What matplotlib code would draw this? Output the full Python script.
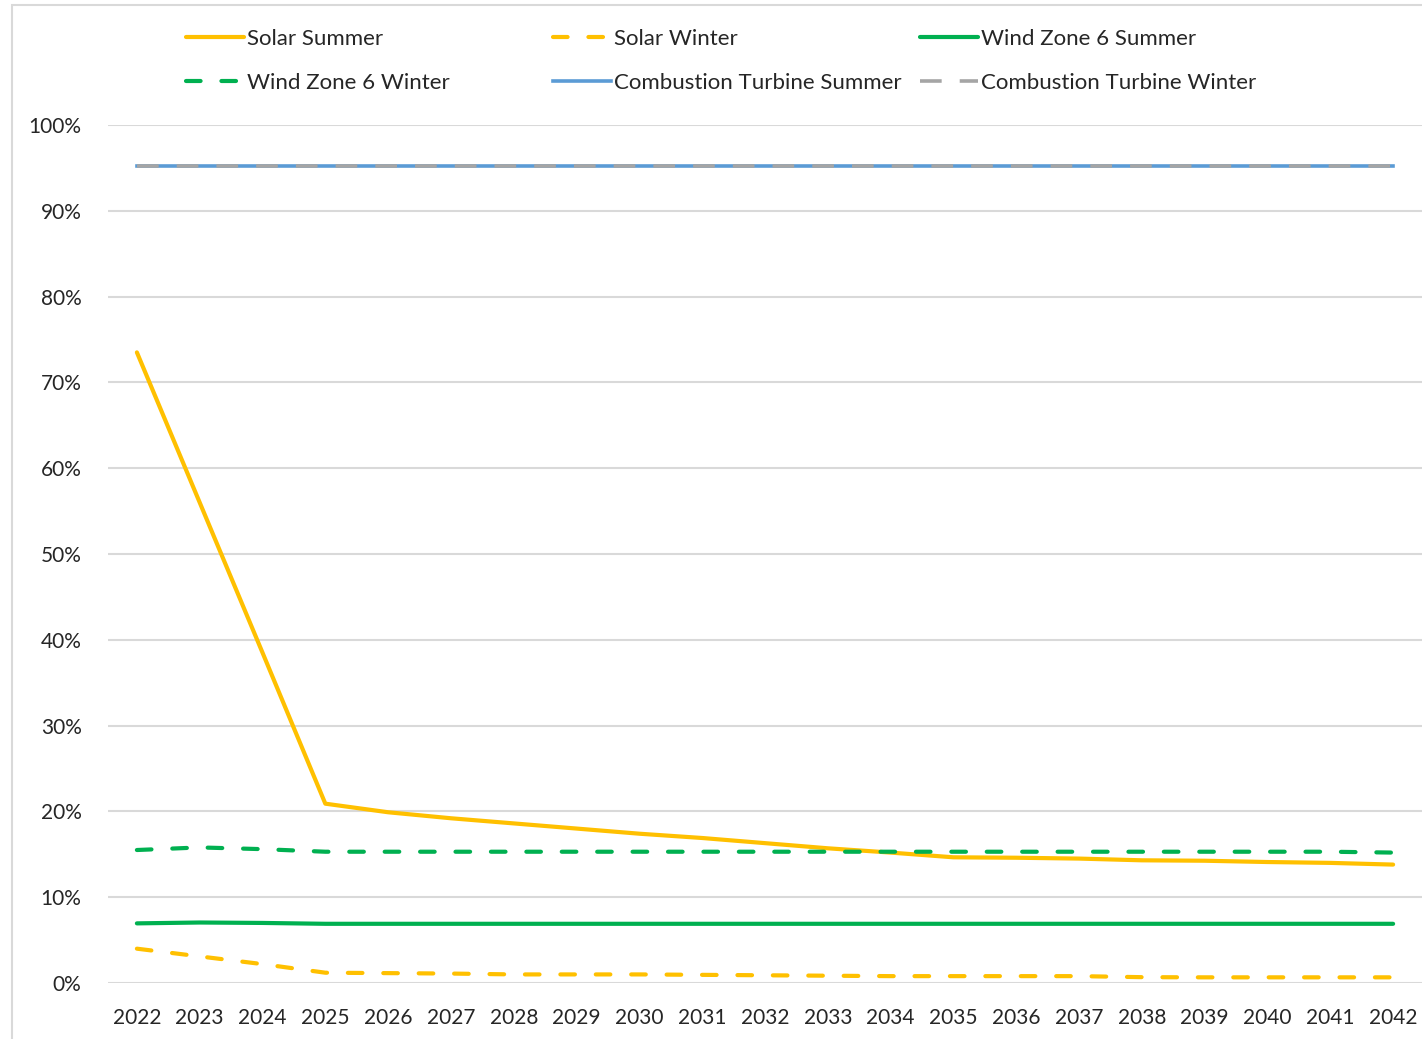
import matplotlib
matplotlib.use("Agg")
import matplotlib.pyplot as plt
from matplotlib.patches import Rectangle
from matplotlib.ticker import PercentFormatter
import numpy as np

plt.rcParams['font.family'] = ['Lato', 'DejaVu Sans']

years = [str(y) for y in range(2022, 2043)]

# capacity credit values (fraction of nameplate)
solar_summer = [0.735, 0.56, 0.385, 0.209, 0.199, 0.192, 0.186, 0.180, 0.174, 0.169,
                0.163, 0.157, 0.152, 0.1465, 0.146, 0.145, 0.143, 0.1425, 0.141, 0.140, 0.138]
solar_winter = [0.040, 0.031, 0.022, 0.012, 0.0115, 0.011, 0.010, 0.010, 0.010, 0.0095,
                0.009, 0.0085, 0.008, 0.008, 0.008, 0.008, 0.0068, 0.0066, 0.0066, 0.0066, 0.0066]
wind_summer = [0.0695, 0.0705, 0.070, 0.069, 0.069, 0.069, 0.069, 0.069, 0.069, 0.069,
               0.069, 0.069, 0.069, 0.069, 0.069, 0.069, 0.069, 0.069, 0.069, 0.069, 0.069]
wind_winter = [0.155, 0.158, 0.156, 0.153, 0.153, 0.153, 0.153, 0.153, 0.153, 0.153,
               0.153, 0.153, 0.153, 0.153, 0.153, 0.153, 0.153, 0.153, 0.153, 0.153, 0.152]
ct_summer = [0.952] * 21
ct_winter = [0.952] * 21

YELLOW = '#FFC000'
GREEN = '#00B050'
BLUE = '#5B9BD5'
GRAY = '#A5A5A5'

fig = plt.figure(figsize=(14.22, 10.39), dpi=100)
ax = fig.add_axes([108 / 1422, 1 - 983 / 1039, 1 - 108 / 1422, (983 - 125) / 1039])

# chart border
fig.patches.append(Rectangle((12 / 1422, -0.05), 1.0, 1.05 - 5 / 1039, transform=fig.transFigure,
                             fill=False, edgecolor='#D9D9D9', linewidth=1.5))

x = np.arange(len(years))
dash = (0, (3.5, 5))
l_ss, = ax.plot(x, solar_summer, color=YELLOW, lw=3, solid_capstyle='round', label='Solar Summer')
l_sw, = ax.plot(x, solar_winter, color=YELLOW, lw=3, linestyle=dash, dash_capstyle='round',
                label='Solar Winter')
l_ws, = ax.plot(x, wind_summer, color=GREEN, lw=3, solid_capstyle='round', label='Wind Zone 6 Summer')
l_ww, = ax.plot(x, wind_winter, color=GREEN, lw=3, linestyle=dash, dash_capstyle='round',
                label='Wind Zone 6 Winter')
l_cs, = ax.plot(x, ct_summer, color=BLUE, lw=2.6, label='Combustion Turbine Summer')
l_cw, = ax.plot(x, ct_winter, color=GRAY, lw=2.6, linestyle=(0, (6, 5)),
                label='Combustion Turbine Winter')

ax.set_xlim(-0.46, 20.46)
ax.set_ylim(0, 1)
ax.set_xticks(x)
ax.set_xticklabels(years)
ax.set_yticks(np.arange(0, 1.01, 0.1))
ax.yaxis.set_major_formatter(PercentFormatter(1.0, decimals=0))
ax.tick_params(axis='both', length=0, labelsize=15, labelcolor='#262626')
ax.tick_params(axis='y', pad=19)
ax.tick_params(axis='x', pad=18)
ax.grid(axis='y', color='#D9D9D9', lw=1.5)
ax.set_axisbelow(True)
for s in ax.spines.values():
    s.set_visible(False)

# legend: three columns placed like the original
cols = [([l_ss, l_ww], 186), ([l_sw, l_cs], 553), ([l_ws, l_cw], 920)]
for handles, xpos in cols:
    fig.legend(handles=handles, loc='upper left', bbox_to_anchor=(xpos / 1422, 1 - 29 / 1039),
               frameon=False, fontsize=16, handlelength=2.6, handletextpad=0.15,
               labelspacing=1.08, borderpad=0, borderaxespad=0, labelcolor='#262626')

fig.savefig('out.png', dpi=100)
